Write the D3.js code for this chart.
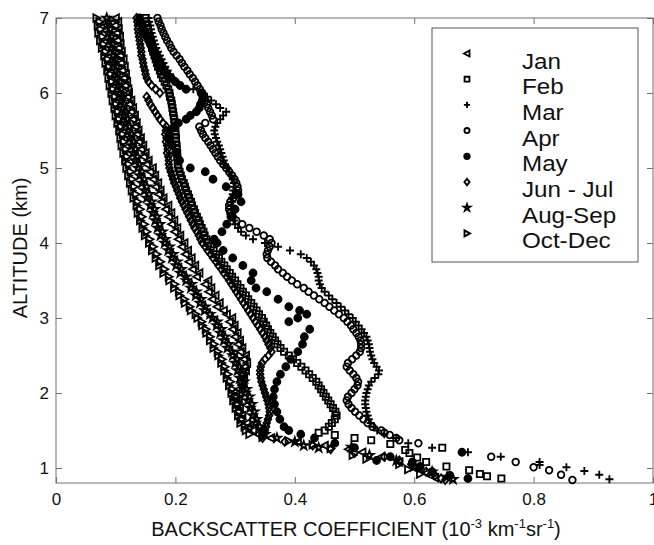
<!DOCTYPE html>
<html><head><meta charset="utf-8">
<script src="https://cdn.jsdelivr.net/npm/d3@7"></script>
<style>body{margin:0;background:#fff} svg{display:block;font-family:"Liberation Sans",Arial,sans-serif}</style>
</head><body><svg id="c" width="654" height="545"></svg>
<script>
// ---------------- DATA ----------------
const altitude = [
7.00,6.95,6.90,6.85,6.80,6.75,6.70,6.65,6.60,6.55,
6.50,6.45,6.40,6.35,6.30,6.25,6.20,6.15,6.10,6.05,
6.00,5.95,5.90,5.85,5.80,5.75,5.70,5.65,5.60,5.55,
5.50,5.45,5.40,5.35,5.30,5.25,5.20,5.15,5.10,5.05,
5.00,4.95,4.90,4.85,4.80,4.75,4.70,4.65,4.60,4.55,
4.50,4.45,4.40,4.35,4.30,4.25,4.20,4.15,4.10,4.05,
4.00,3.95,3.90,3.85,3.80,3.75,3.70,3.65,3.60,3.55,
3.50,3.45,3.40,3.35,3.30,3.25,3.20,3.15,3.10,3.05,
3.00,2.95,2.90,2.85,2.80,2.75,2.70,2.65,2.60,2.55,
2.50,2.45,2.40,2.35,2.30,2.25,2.20,2.15,2.10,2.05,
2.00,1.95,1.90,1.85,1.80,1.75,1.70,1.65,1.60,1.55,
1.50];

const jan = [
0.100,0.104,0.099,0.105,0.102,0.107,0.103,0.108,0.105,0.110,
0.108,0.113,0.109,0.115,0.111,0.117,0.114,0.119,0.116,0.121,
0.122,0.120,0.126,0.123,0.129,0.126,0.132,0.129,0.135,0.133,
0.138,0.136,0.142,0.139,0.146,0.143,0.150,0.147,0.155,0.152,
0.162,0.158,0.166,0.163,0.171,0.167,0.175,0.172,0.180,0.177,
0.188,0.184,0.193,0.189,0.198,0.194,0.203,0.199,0.208,0.205,
0.215,0.211,0.221,0.217,0.227,0.223,0.233,0.229,0.240,0.236,
0.255,0.250,0.260,0.256,0.267,0.262,0.274,0.270,0.281,0.286,
0.295,0.291,0.299,0.296,0.304,0.300,0.308,0.305,0.312,0.309,
0.318,0.315,0.320,0.316,0.318,0.313,0.315,0.310,0.312,0.306,
0.307,0.302,0.306,0.303,0.308,0.305,0.312,0.310,0.320,0.322,
0.330];
const janTail = [[1.45,0.338],[1.40,0.36],[1.35,0.405],[1.30,0.45],[1.25,0.49],[1.21,0.513],[1.15,0.545],[1.08,0.575],[1.00,0.60],[0.93,0.62],[0.87,0.635]];

const feb = [
0.150,0.151,0.153,0.154,0.155,0.157,0.158,0.160,0.161,0.163,
0.165,0.167,0.169,0.171,0.174,0.176,0.179,0.182,0.185,0.188,
0.190,0.191,0.193,0.194,0.195,0.196,0.197,0.198,0.199,0.199,
0.200,0.200,0.201,0.201,0.202,0.202,0.203,0.203,0.204,0.204,
0.205,0.207,0.209,0.211,0.214,0.216,0.218,0.221,0.223,0.226,
0.228,0.231,0.233,0.236,0.239,0.241,0.244,0.247,0.249,0.252,
0.255,0.259,0.264,0.268,0.273,0.277,0.282,0.286,0.291,0.295,
0.300,0.304,0.309,0.313,0.318,0.322,0.327,0.331,0.336,0.340,
0.345,0.348,0.352,0.355,0.359,0.363,0.367,0.371,0.376,0.382,
0.390,0.397,0.404,0.411,0.418,0.424,0.430,0.436,0.440,0.444,
0.448,0.452,0.456,0.460,0.464,0.468,0.470,0.467,0.462,0.457,
0.450];
const febTail = [[1.47,0.44],[1.44,0.467],[1.40,0.50],[1.37,0.528],[1.32,0.56],[1.27,0.647],[1.24,0.585],[1.20,0.592],[1.14,0.605],[1.08,0.62],[1.02,0.654],[0.97,0.692],[0.92,0.71],[0.89,0.722],[0.86,0.746]];

const mar = [
0.155,0.156,0.158,0.159,0.160,0.162,0.164,0.166,0.168,0.171,
0.174,0.177,0.180,0.183,0.187,0.191,0.195,0.201,0.207,0.230,
0.245,0.253,0.260,0.268,0.275,0.285,0.280,0.275,0.270,0.267,
0.265,0.266,0.268,0.270,0.273,0.275,0.277,0.279,0.281,0.283,
0.287,0.290,0.293,0.296,0.298,0.298,0.297,0.296,0.295,0.295,
0.294,0.294,0.295,0.296,0.298,0.300,0.305,0.310,0.318,0.330,
0.350,0.372,0.392,0.410,0.420,0.427,0.432,0.436,0.438,0.440,
0.440,0.442,0.445,0.450,0.457,0.463,0.470,0.477,0.484,0.490,
0.497,0.502,0.507,0.512,0.516,0.520,0.522,0.524,0.525,0.526,
0.528,0.530,0.533,0.537,0.541,0.540,0.534,0.528,0.524,0.522,
0.520,0.519,0.518,0.518,0.519,0.520,0.522,0.524,0.527,0.532,
0.538];
const marTail = [[1.45,0.55],[1.40,0.57],[1.33,0.59],[1.27,0.63],[1.21,0.69],[1.15,0.745],[1.08,0.81],[1.04,0.81],[1.01,0.855],[0.96,0.885],[0.91,0.91],[0.85,0.927]];

const apr = [
0.170,0.172,0.175,0.177,0.180,0.183,0.186,0.190,0.193,0.197,
0.202,0.207,0.211,0.215,0.220,0.224,0.229,0.233,0.237,0.241,
0.245,0.248,0.250,0.253,0.255,0.258,0.261,0.263,0.250,0.240,
0.243,0.246,0.250,0.255,0.259,0.263,0.267,0.271,0.275,0.280,
0.285,0.290,0.295,0.299,0.302,0.304,0.305,0.302,0.297,0.292,
0.290,0.290,0.292,0.296,0.302,0.312,0.324,0.336,0.348,0.358,
0.361,0.358,0.355,0.353,0.354,0.360,0.367,0.372,0.380,0.387,
0.395,0.404,0.415,0.423,0.432,0.441,0.450,0.458,0.466,0.474,
0.482,0.488,0.494,0.498,0.503,0.507,0.510,0.511,0.511,0.509,
0.503,0.496,0.489,0.487,0.492,0.498,0.503,0.506,0.505,0.500,
0.495,0.489,0.487,0.490,0.495,0.501,0.508,0.515,0.522,0.530,
0.545];
const aprTail = [[1.47,0.55],[1.44,0.559],[1.40,0.57],[1.37,0.575],[1.33,0.607],[1.15,0.729],[1.08,0.77],[1.01,0.80],[0.97,0.826],[0.91,0.846],[0.84,0.865]];

const may = [
0.140,0.142,0.145,0.147,0.150,0.152,0.155,0.158,0.161,0.163,
0.166,0.169,0.173,0.176,0.180,0.186,0.193,0.200,0.208,0.218,
0.243,0.246,0.245,0.242,0.240,0.235,0.225,0.218,0.205,0.198,
0.190,null,0.190,null,0.195,null,0.200,null,0.207,null,
0.225,0.250,null,0.263,null,0.285,null,0.305,null,0.310,
null,0.300,null,0.293,null,0.286,null,0.278,null,0.265,
0.270,null,0.280,null,0.296,null,0.313,null,0.330,null,
0.327,null,0.335,0.353,null,0.372,null,0.390,0.408,0.420,
0.405,0.390,null,0.425,null,0.416,null,0.413,null,0.405,
null,0.393,null,0.385,null,0.376,null,0.370,null,0.366,
null,0.364,null,0.366,null,0.370,null,0.375,null,0.382,
0.390];
const mayTail = [[1.45,0.41],[1.40,0.433],[1.33,0.467],[1.27,0.50],[1.21,0.68],[1.15,0.56],[1.10,0.537],[1.08,0.597],[1.02,0.61],[0.95,0.63],[0.90,0.66],[0.86,0.69]];

const junJul = [
0.135,0.136,0.137,0.137,0.138,0.139,0.140,0.141,0.142,0.143,
0.143,0.145,0.146,0.147,0.149,0.150,0.152,0.155,0.160,0.167,
0.174,0.152,0.155,0.158,0.162,0.166,0.170,0.174,0.179,0.185,
0.184,0.183,0.185,0.184,0.186,0.187,0.186,0.188,0.189,0.189,
0.190,0.192,0.194,0.196,0.198,0.201,0.203,0.206,0.208,0.211,
0.214,0.217,0.220,0.223,0.226,0.229,0.232,0.236,0.239,0.242,
0.245,0.250,0.254,0.259,0.263,0.268,0.272,0.277,0.281,0.286,
0.290,0.294,0.298,0.302,0.306,0.310,0.314,0.318,0.322,0.326,
0.330,0.334,0.338,0.342,0.346,0.350,0.353,0.356,0.359,0.361,
0.356,0.350,0.345,0.343,0.342,0.342,0.343,0.344,0.346,0.348,
0.350,0.352,0.354,0.356,0.357,0.358,0.357,0.355,0.353,0.352,
0.350];
const junJulTail = [[1.45,0.348],[1.40,0.346],[1.35,0.383],[1.30,0.43],[1.25,0.46],[1.20,0.50],[1.15,0.55],[1.10,0.575],[1.05,0.595],[1.00,0.61],[0.95,0.62],[0.90,0.635],[0.86,0.645],[0.84,0.652]];

const augSep = [
0.085,0.089,0.084,0.091,0.087,0.093,0.089,0.095,0.092,0.097,
0.095,0.100,0.096,0.102,0.099,0.104,0.101,0.107,0.103,0.109,
0.106,0.112,0.108,0.114,0.111,0.117,0.113,0.120,0.116,0.123,
0.120,0.127,0.123,0.130,0.126,0.133,0.129,0.136,0.132,0.139,
0.137,0.144,0.140,0.148,0.144,0.152,0.148,0.156,0.152,0.160,
0.158,0.165,0.162,0.169,0.166,0.174,0.170,0.178,0.175,0.183,
0.182,0.190,0.188,0.196,0.194,0.203,0.201,0.210,0.208,0.218,
0.218,0.227,0.226,0.235,0.234,0.243,0.241,0.250,0.249,0.258,
0.262,0.270,0.269,0.277,0.275,0.283,0.281,0.289,0.287,0.295,
0.296,0.303,0.300,0.307,0.304,0.311,0.308,0.315,0.312,0.319,
0.317,0.324,0.321,0.328,0.325,0.332,0.329,0.336,0.334,0.341,
0.345];
const augSepTail = [[1.45,0.35],[1.40,0.37],[1.35,0.40],[1.30,0.415],[1.27,0.44],[1.28,0.495],[1.17,0.525],[1.10,0.57],[1.02,0.60],[0.95,0.63],[0.88,0.655],[0.85,0.665]];

const octDec = [
0.068,0.073,0.070,0.075,0.071,0.078,0.074,0.080,0.077,0.083,
0.081,0.087,0.083,0.089,0.086,0.092,0.088,0.094,0.090,0.096,
0.093,0.099,0.095,0.101,0.098,0.104,0.100,0.106,0.103,0.109,
0.106,0.112,0.108,0.114,0.110,0.117,0.113,0.119,0.116,0.122,
0.118,0.125,0.121,0.128,0.124,0.131,0.127,0.134,0.130,0.137,
0.135,0.141,0.137,0.144,0.141,0.148,0.145,0.152,0.149,0.157,
0.156,0.163,0.161,0.169,0.167,0.175,0.173,0.182,0.180,0.189,
0.190,0.199,0.198,0.206,0.207,0.215,0.216,0.224,0.226,0.234,
0.237,0.244,0.245,0.251,0.252,0.258,0.258,0.265,0.264,0.271,
0.272,0.278,0.277,0.283,0.282,0.288,0.286,0.292,0.290,0.296,
0.294,0.300,0.297,0.303,0.301,0.307,0.305,0.311,0.309,0.316,
0.318];
const octDecTail = [[1.45,0.324],[1.41,0.346],[1.36,0.39],[1.31,0.43],[1.26,0.46],[1.17,0.497],[1.12,0.52],[1.05,0.575],[0.98,0.59],[0.92,0.61]];

const seriesNames = ["Jan","Feb","Mar","Apr","May","Jun - Jul","Aug-Sep","Oct-Dec"];
const xTicks = [0,0.2,0.4,0.6,0.8,1];
const xTickLabels = ["0","0.2","0.4","0.6","0.8","1"];
const yTicks = [1,2,3,4,5,6,7];

// ---------------- CHART ----------------
const svg = d3.select("#c");
const x = d3.scaleLinear().domain([0,1]).range([56,653]);
const y = d3.scaleLinear().domain([0.8,7]).range([483,18]);

const shapes = {
  "Jan":      {d:"M-3.8,0L3.2,-3.8L3.2,3.8Z", fill:"none"},
  "Feb":      {d:"M-3.1,-3.1H3.1V3.1H-3.1Z", fill:"none"},
  "Mar":      {d:"M-4,0H4M0,-4V4", fill:"none"},
  "Apr":      {circle:3.3, fill:"none"},
  "May":      {circle:3.5, fill:"#000"},
  "Jun - Jul":{d:"M0,-4.1L3.3,0L0,4.1L-3.3,0Z", fill:"none"},
  "Aug-Sep":  {d:d3.symbol(d3.symbolStar,22)(), fill:"none"},
  "Oct-Dec":  {d:"M3.8,0L-3.2,-3.8L-3.2,3.8Z", fill:"none"}
};

const pairs = (vals, tail) => altitude.map((a,i)=>[vals[i],a]).filter(p=>p[0]!=null)
  .concat(tail.map(([a,v])=>[v,a]));
const series = [
  {name:"Jan", pts:pairs(jan,janTail)},
  {name:"Feb", pts:pairs(feb,febTail)},
  {name:"Mar", pts:pairs(mar,marTail)},
  {name:"Apr", pts:pairs(apr,aprTail)},
  {name:"May", pts:pairs(may,mayTail)},
  {name:"Jun - Jul", pts:pairs(junJul,junJulTail)},
  {name:"Aug-Sep", pts:pairs(augSep,augSepTail)},
  {name:"Oct-Dec", pts:pairs(octDec,octDecTail)}
];

function drawMarker(sel, name, sw){
  const s = shapes[name];
  if (s.circle){
    sel.append("circle").attr("r",s.circle).attr("fill",s.fill).attr("stroke","#000").attr("stroke-width",sw);
  } else {
    sel.append("path").attr("d",s.d).attr("fill",s.fill).attr("stroke","#000").attr("stroke-width",sw);
  }
}

// frame & axes
svg.append("rect").attr("x",56).attr("y",18).attr("width",597).attr("height",465)
  .attr("fill","none").attr("stroke","#707070").attr("stroke-width",1);

const axStyle = g => { g.select(".domain").remove(); g.selectAll("line").attr("stroke","#707070");
  g.selectAll("text").attr("fill","#111").style("font-size","17px").style("font-family","'Liberation Sans',Arial,sans-serif"); };

svg.append("g").attr("transform","translate(0,483)")
  .call(d3.axisBottom(x).tickValues(xTicks).tickFormat((d,i)=>xTickLabels[i]).tickSizeInner(-6).tickSizeOuter(0).tickPadding(10))
  .call(axStyle);
svg.append("g").attr("transform","translate(0,18)")
  .call(d3.axisTop(x).tickValues(xTicks).tickFormat("").tickSizeInner(-6).tickSizeOuter(0))
  .call(axStyle);
svg.append("g").attr("transform","translate(56,0)")
  .call(d3.axisLeft(y).tickValues(yTicks).tickFormat(d3.format("d")).tickSizeInner(-6).tickSizeOuter(0).tickPadding(7))
  .call(axStyle);
svg.append("g").attr("transform","translate(653,0)")
  .call(d3.axisRight(y).tickValues(yTicks).tickFormat("").tickSizeInner(-6).tickSizeOuter(0))
  .call(axStyle);

// data
const plot = svg.append("g");
series.forEach(s=>{
  const g = plot.append("g").attr("class","series");
  s.pts.forEach(p=>{
    const m = g.append("g").attr("transform",`translate(${x(p[0])},${y(p[1])})`);
    drawMarker(m, s.name, 1.8);
  });
});

// legend
const lg = svg.append("g");
lg.append("rect").attr("x",432).attr("y",28).attr("width",206).attr("height",234)
  .attr("fill","#fff").attr("stroke","#555").attr("stroke-width",1);
seriesNames.forEach((n,i)=>{
  const yy = 68.5 + i*25.7;
  const m = lg.append("g").attr("transform",`translate(467,${yy-15}) scale(0.78)`);
  drawMarker(m, n, 2.4);
  lg.append("text").attr("transform",`translate(522,${yy}) scale(1.1,1)`).text(n)
    .style("font-size","22px").attr("fill","#111");
});

// axis titles
const xt = svg.append("text").attr("x",356).attr("y",536).attr("text-anchor","middle")
  .style("font-size","20px").attr("fill","#111");
xt.append("tspan").text("BACKSCATTER COEFFICIENT (10");
xt.append("tspan").attr("dy",-8).style("font-size","13px").text("-3");
xt.append("tspan").attr("dy",8).text(" km");
xt.append("tspan").attr("dy",-8).style("font-size","13px").text("-1");
xt.append("tspan").attr("dy",8).text("sr");
xt.append("tspan").attr("dy",-8).style("font-size","13px").text("-1");
xt.append("tspan").attr("dy",8).text(")");

svg.append("text").attr("transform","translate(27,248) rotate(-90)").attr("text-anchor","middle")
  .style("font-size","20px").attr("fill","#111").text("ALTITUDE (km)");
</script></body></html>
